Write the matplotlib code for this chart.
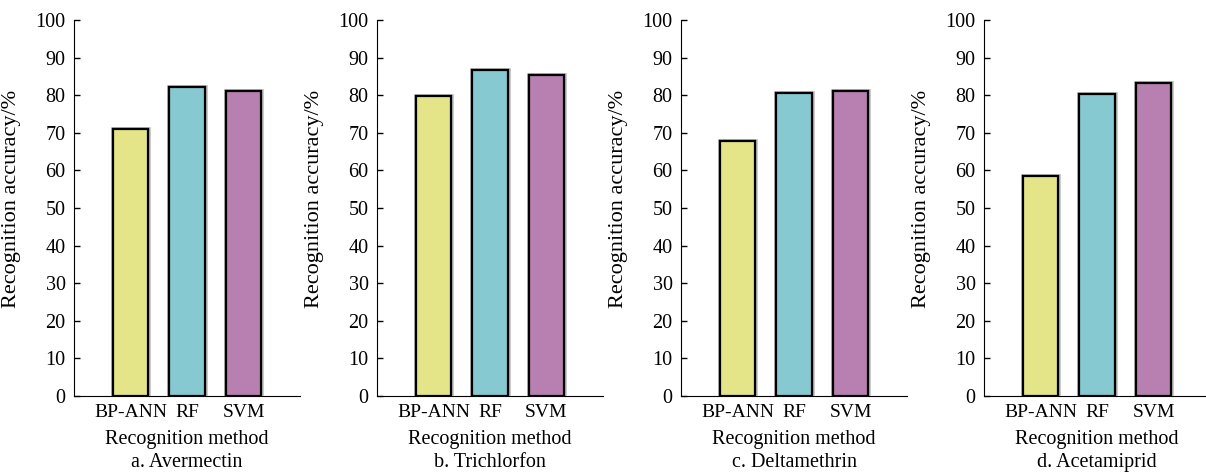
import numpy as np
import matplotlib
matplotlib.use("Agg")
import matplotlib.pyplot as plt
import matplotlib.patheffects as pe

plt.rcParams['font.family'] = ['Liberation Serif', 'DejaVu Serif']

methods = ['BP-ANN', 'RF', 'SVM']
titles = ['a. Avermectin', 'b. Trichlorfon', 'c. Deltamethrin', 'd. Acetamiprid']
avermectin = [71.0, 82.3, 81.0]
trichlorfon = [79.8, 86.7, 85.3]
deltamethrin = [67.7, 80.6, 81.0]
acetamiprid = [58.5, 80.2, 83.2]
colors = ['#E4E488', '#86C9D1', '#B880B0']

data = [avermectin, trichlorfon, deltamethrin, acetamiprid]
lefts = [74, 377, 681, 984]

fig = plt.figure(figsize=(12.06, 4.74), dpi=100)
W, H = 1206, 474
for i, vals in enumerate(data):
    ax = fig.add_axes([lefts[i] / W, 1 - 396 / H, 226 / W, 376 / H])
    x = np.arange(1, len(methods) + 1)
    bars = ax.bar(x, vals, width=0.62, color=colors, edgecolor='black',
                  linewidth=1.6, zorder=3)
    for b in bars:
        b.set_path_effects([pe.withStroke(linewidth=3.5, foreground='#c8c8c8'),
                            pe.Normal()])
    ax.set_xlim(0, 4)
    ax.set_ylim(0, 100)
    ax.set_yticks(np.arange(0, 101, 10))
    ax.set_xticks(x)
    ax.set_xticklabels(methods)
    ax.spines['top'].set_visible(False)
    ax.spines['right'].set_visible(False)
    ax.tick_params(direction='in', length=4, width=1, labelsize=14)
    ax.tick_params(axis='y', pad=6, labelsize=14.5)
    ax.tick_params(axis='x', pad=6)
    ax.set_ylabel('Recognition accuracy/%', fontsize=16)
    ax.yaxis.set_label_coords(-0.235, 0.525)
    ax.text(0.5, -0.117, 'Recognition method', transform=ax.transAxes,
            ha='center', va='center', fontsize=14.5)
    ax.text(0.5, -0.178, titles[i], transform=ax.transAxes, ha='center',
            va='center', fontsize=14.5)

fig.savefig('out.png', dpi=100)
